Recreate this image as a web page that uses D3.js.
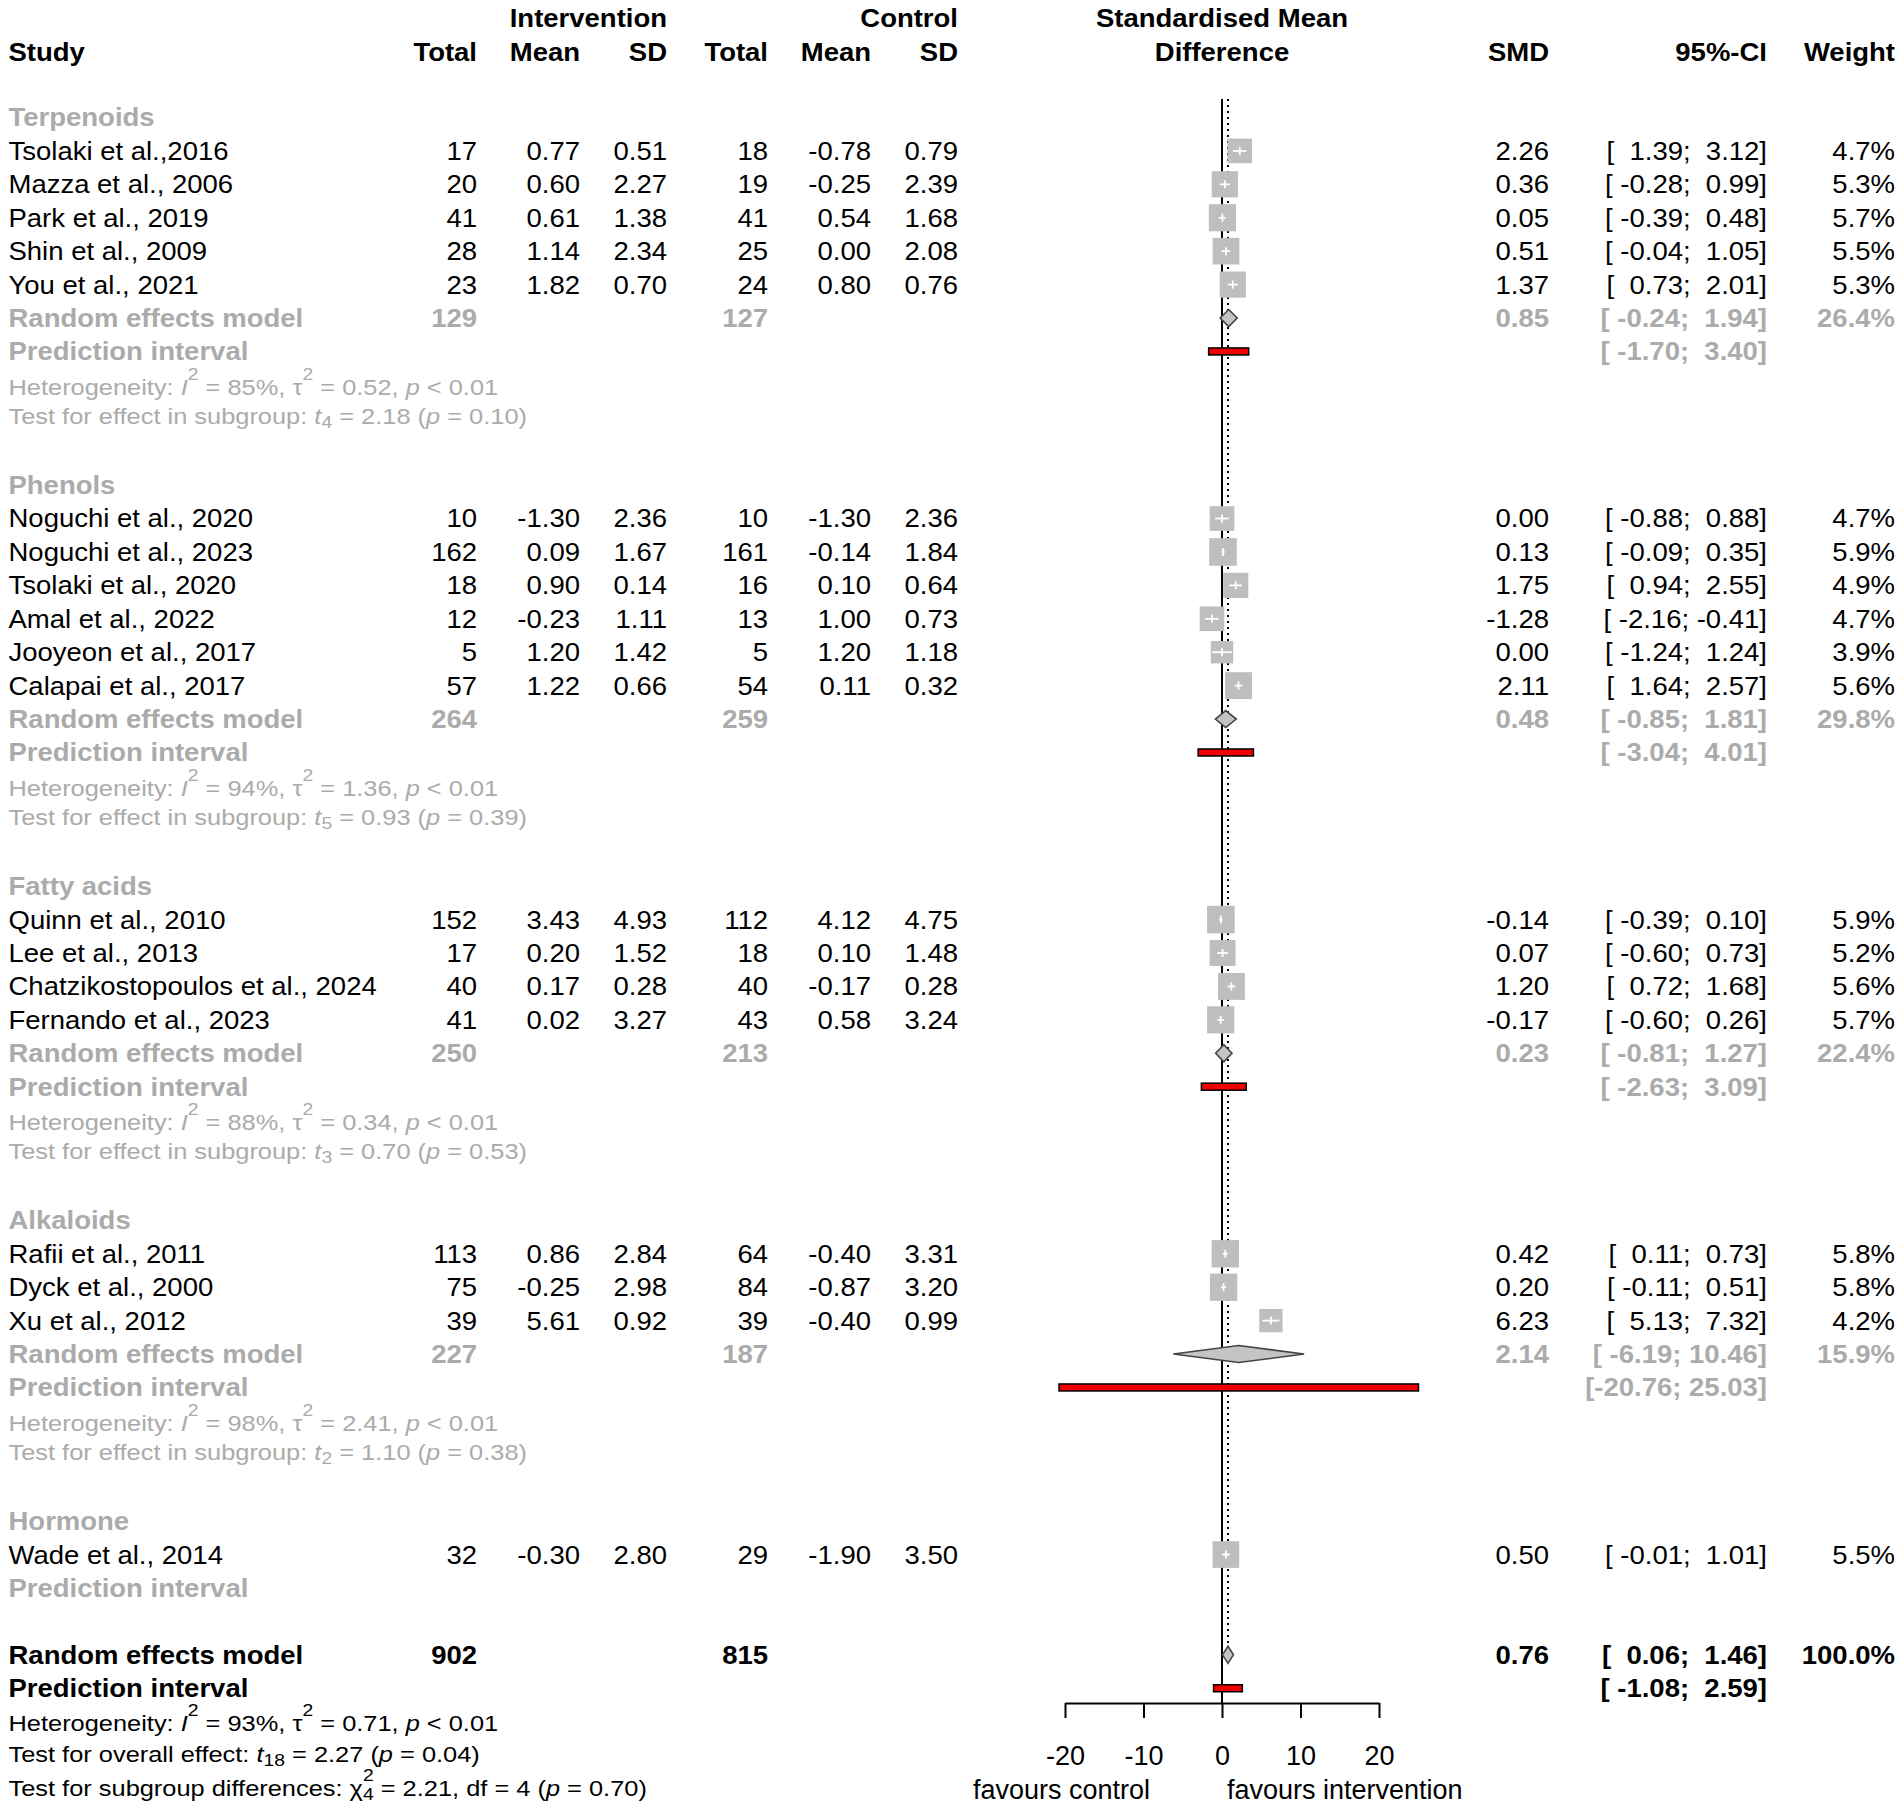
<!DOCTYPE html>
<html><head><meta charset="utf-8">
<script src="https://cdn.jsdelivr.net/npm/d3@7"></script>
<style>
body{margin:0;background:#fff}
text{font-family:"Liberation Sans",Arial,Helvetica,sans-serif;white-space:pre}
</style>
</head><body>
<svg id="chart" width="1902" height="1814"></svg>
<script>
// ---------------- DATA ----------------
const groupNames = ["Terpenoids","Phenols","Fatty acids","Alkaloids","Hormone"];

const studyNames = ["Tsolaki et al.,2016","Mazza et al., 2006","Park et al., 2019","Shin et al., 2009","You et al., 2021",
  "Noguchi et al., 2020","Noguchi et al., 2023","Tsolaki et al., 2020","Amal et al., 2022","Jooyeon et al., 2017","Calapai et al., 2017",
  "Quinn et al., 2010","Lee et al., 2013","Chatzikostopoulos et al., 2024","Fernando et al., 2023",
  "Rafii et al., 2011","Dyck et al., 2000","Xu et al., 2012",
  "Wade et al., 2014"];
const studyGroup = [0,0,0,0,0, 1,1,1,1,1,1, 2,2,2,2, 3,3,3, 4];
const intTotal = [17,20,41,28,23, 10,162,18,12,5,57, 152,17,40,41, 113,75,39, 32];
const intMean  = [0.77,0.60,0.61,1.14,1.82, -1.30,0.09,0.90,-0.23,1.20,1.22, 3.43,0.20,0.17,0.02, 0.86,-0.25,5.61, -0.30];
const intSD    = [0.51,2.27,1.38,2.34,0.70, 2.36,1.67,0.14,1.11,1.42,0.66, 4.93,1.52,0.28,3.27, 2.84,2.98,0.92, 2.80];
const ctlTotal = [18,19,41,25,24, 10,161,16,13,5,54, 112,18,40,43, 64,84,39, 29];
const ctlMean  = [-0.78,-0.25,0.54,0.00,0.80, -1.30,-0.14,0.10,1.00,1.20,0.11, 4.12,0.10,-0.17,0.58, -0.40,-0.87,-0.40, -1.90];
const ctlSD    = [0.79,2.39,1.68,2.08,0.76, 2.36,1.84,0.64,0.73,1.18,0.32, 4.75,1.48,0.28,3.24, 3.31,3.20,0.99, 3.50];
const smd      = [2.26,0.36,0.05,0.51,1.37, 0.00,0.13,1.75,-1.28,0.00,2.11, -0.14,0.07,1.20,-0.17, 0.42,0.20,6.23, 0.50];
const ciLow    = [1.39,-0.28,-0.39,-0.04,0.73, -0.88,-0.09,0.94,-2.16,-1.24,1.64, -0.39,-0.60,0.72,-0.60, 0.11,-0.11,5.13, -0.01];
const ciHigh   = [3.12,0.99,0.48,1.05,2.01, 0.88,0.35,2.55,-0.41,1.24,2.57, 0.10,0.73,1.68,0.26, 0.73,0.51,7.32, 1.01];
const weight   = [4.7,5.3,5.7,5.5,5.3, 4.7,5.9,4.9,4.7,3.9,5.6, 5.9,5.2,5.6,5.7, 5.8,5.8,4.2, 5.5];

// subgroup summaries (Hormone has none)
const sgIntTotal = [129,264,250,227,null];
const sgCtlTotal = [127,259,213,187,null];
const sgSMD      = [0.85,0.48,0.23,2.14,null];
const sgLow      = [-0.24,-0.85,-0.81,-6.19,null];
const sgHigh     = [1.94,1.81,1.27,10.46,null];
const sgWeight   = [26.4,29.8,22.4,15.9,null];
const sgPILow    = [-1.70,-3.04,-2.63,-20.76,null];
const sgPIHigh   = [3.40,4.01,3.09,25.03,null];
const sgI2       = [85,94,88,98,null];
const sgTau2     = [0.52,1.36,0.34,2.41,null];
const sgHetP     = ["< 0.01","< 0.01","< 0.01","< 0.01",null];
const sgTestDf   = [4,5,3,2,null];
const sgTestT    = [2.18,0.93,0.70,1.10,null];
const sgTestP    = [0.10,0.39,0.53,0.38,null];

// overall
const overallIntTotal = 902, overallCtlTotal = 815;
const overallSMD = 0.76, overallLow = 0.06, overallHigh = 1.46, overallWeight = 100.0;
const overallPILow = -1.08, overallPIHigh = 2.59;
const overallI2 = 93, overallTau2 = 0.71, overallHetP = "< 0.01";
const overallDf = 18, overallT = 2.27, overallP = 0.04;
const subgroupChi2 = 2.21, subgroupDf = 4, subgroupP = 0.70;

const axisTicks = [-20,-10,0,10,20];
const leftLabel = "favours control", rightLabel = "favours intervention";

// ---------------- LAYOUT / STYLE ----------------
const GRAY = "#ABABAB";
const FS = 25, SX = 1.1;          // table font
const HFS = 22, HSX = 1.155;       // heterogeneity lines
const SUBSCALE = 0.76;
const rowY0 = 117.5, rowH = 33.42;
const rowY = d3.scaleLinear().domain([0,1]).range([rowY0, rowY0+rowH]);
const col = {study:8.5, nE:477, mE:580, sE:667, nC:768, mC:871, sC:958, smd:1549, ci:1767, w:1895};
const xs = d3.scaleLinear().domain([-20,20]).range([1065,1379]);
const sq = d3.scaleSqrt().domain([0,5.9]).range([0,27.6]);
const axisY = 1703, topLineY = 99;

const svg = d3.select("#chart");
svg.append("rect").attr("width",1902).attr("height",1814).attr("fill","#fff");

const f2 = v => v.toFixed(2);
const pad = (s,n) => s.padStart(n," ");
const ciStr = (lo,hi) => "[" + pad(f2(lo),6) + "; " + pad(f2(hi),5) + "]";

function txt(x, yc, s, o={}) {
  const size = o.size || FS, sx = o.sx || SX;
  const base = yc + 0.716*size/2;
  return svg.append("text")
    .attr("transform", `translate(${x},${base}) scale(${sx},1)`)
    .attr("text-anchor", o.anchor || "end")
    .attr("font-size", size)
    .attr("font-weight", o.bold ? "bold" : "normal")
    .attr("fill", o.color || "#000")
    .text(s);
}
function rich(x, yc, parts, color) {
  const size = HFS;
  const base = yc + 0.716*size/2;
  const t = svg.append("text")
    .attr("transform", `translate(${x},${base}) scale(${HSX},1)`)
    .attr("font-size", size).attr("fill", color);
  let cur = 0;
  parts.forEach(p => {
    const target = p.sup ? -0.68*size : (p.sub ? 0.18*size : 0);
    const ts = t.append("tspan").attr("dy", target - cur).text(p.t);
    cur = target;
    if (p.sup || p.sub) ts.attr("font-size", SUBSCALE*size);
    if (p.i) ts.attr("font-style","italic");
    if (p.back) ts.attr("dx", -0.556*SUBSCALE*size);
  });
}
const hetParts = (i2, tau2, pl) => [
  {t:"Heterogeneity: "},{t:"I",i:1},{t:"2",sup:1},{t:" = "+i2+"%, "},{t:"\u03c4"},{t:"2",sup:1},
  {t:" = "+f2(tau2)+", "},{t:"p",i:1},{t:" "+pl}];
const testParts = (label, df, tv, p) => [
  {t:label+": "},{t:"t",i:1},{t:String(df),sub:1},{t:" = "+f2(tv)+" ("},{t:"p",i:1},{t:" = "+f2(p)+")"}];

// ---------------- HEADER ----------------
const h1 = 18, h2 = 52;
txt(col.sE, h1, "Intervention", {bold:1});
txt(col.sC, h1, "Control", {bold:1});
txt(1222, h1, "Standardised Mean", {bold:1, anchor:"middle"});
txt(col.study, h2, "Study", {bold:1, anchor:"start"});
[["nE","Total"],["mE","Mean"],["sE","SD"],["nC","Total"],["mC","Mean"],["sC","SD"],["smd","SMD"],["ci","95%-CI"],["w","Weight"]]
  .forEach(([k,s]) => txt(col[k], h2, s, {bold:1}));
txt(1222, h2, "Difference", {bold:1, anchor:"middle"});

// ---------------- ROWS ----------------
const rows = [];
let r = 0;
groupNames.forEach((g, gi) => {
  rows.push({type:"group", gi, r:r++});
  studyNames.forEach((s, i) => { if (studyGroup[i] === gi) rows.push({type:"study", i, r:r++}); });
  if (sgSMD[gi] != null) rows.push({type:"re", gi, r:r++});
  rows.push({type:"pi", gi, r:r++});
  if (sgI2[gi] != null) { rows.push({type:"het", gi, r:r++}); rows.push({type:"test", gi, r:r++}); }
  r++;
});
const oRE = r, oPI = r+1, oHet = r+2, oTest = r+3, oSub = r+4;

// reference lines (drawn first)
svg.append("line").attr("x1",xs(0)).attr("x2",xs(0)).attr("y1",topLineY).attr("y2",axisY)
  .attr("stroke","#000").attr("stroke-width",2);
svg.append("line").attr("x1",xs(overallSMD)).attr("x2",xs(overallSMD)).attr("y1",topLineY).attr("y2",rowY(oRE)-8)
  .attr("stroke","#000").attr("stroke-width",2).attr("stroke-dasharray","2,4");

function diamond(est, lo, hi, y) {
  const h = 8.5;
  svg.append("path")
    .attr("d", `M${xs(lo)},${y}L${xs(est)},${y-h}L${xs(hi)},${y}L${xs(est)},${y+h}Z`)
    .attr("fill","#C4C4C4").attr("stroke","#444").attr("stroke-width",1.6);
}
function piBar(lo, hi, y) {
  svg.append("rect").attr("x",xs(lo)).attr("width",xs(hi)-xs(lo)).attr("y",y-3.5).attr("height",7)
    .attr("fill","#F00000").attr("stroke","#000").attr("stroke-width",1.5);
}
function studyMark(i, y) {
  const s = sq(weight[i]), cx = xs(smd[i]);
  const L = cx - s/2, R = cx + s/2;
  const x1 = xs(ciLow[i]), x2 = xs(ciHigh[i]);
  if (x1 < L) svg.append("line").attr("x1",x1).attr("x2",L).attr("y1",y).attr("y2",y).attr("stroke","#000").attr("stroke-width",2);
  if (x2 > R) svg.append("line").attr("x1",R).attr("x2",x2).attr("y1",y).attr("y2",y).attr("stroke","#000").attr("stroke-width",2);
  svg.append("rect").attr("x",L).attr("y",y-s/2).attr("width",s).attr("height",s).attr("fill","#BEBEBE");
  svg.append("line").attr("x1",Math.max(x1,L)).attr("x2",Math.min(x2,R)).attr("y1",y).attr("y2",y)
    .attr("stroke","#fff").attr("stroke-width",1.8);
  svg.append("line").attr("x1",cx).attr("x2",cx).attr("y1",y-4).attr("y2",y+4)
    .attr("stroke","#fff").attr("stroke-width",1.8);
}

rows.forEach(row => {
  const y = rowY(row.r);
  if (row.type === "group") {
    txt(col.study, y, groupNames[row.gi], {anchor:"start", bold:1, color:GRAY});
  } else if (row.type === "study") {
    const i = row.i;
    txt(col.study, y, studyNames[i], {anchor:"start"});
    txt(col.nE, y, String(intTotal[i]));
    txt(col.mE, y, f2(intMean[i]));
    txt(col.sE, y, f2(intSD[i]));
    txt(col.nC, y, String(ctlTotal[i]));
    txt(col.mC, y, f2(ctlMean[i]));
    txt(col.sC, y, f2(ctlSD[i]));
    txt(col.smd, y, f2(smd[i]));
    txt(col.ci, y, ciStr(ciLow[i], ciHigh[i]));
    txt(col.w, y, weight[i].toFixed(1) + "%");
    studyMark(i, y);
  } else if (row.type === "re") {
    const g = row.gi, o = {bold:1, color:GRAY};
    txt(col.study, y, "Random effects model", {...o, anchor:"start"});
    txt(col.nE, y, String(sgIntTotal[g]), o);
    txt(col.nC, y, String(sgCtlTotal[g]), o);
    txt(col.smd, y, f2(sgSMD[g]), o);
    txt(col.ci, y, ciStr(sgLow[g], sgHigh[g]), o);
    txt(col.w, y, sgWeight[g].toFixed(1) + "%", o);
    diamond(sgSMD[g], sgLow[g], sgHigh[g], y);
  } else if (row.type === "pi") {
    const g = row.gi, o = {bold:1, color:GRAY};
    txt(col.study, y, "Prediction interval", {...o, anchor:"start"});
    if (sgPILow[g] != null) {
      txt(col.ci, y, ciStr(sgPILow[g], sgPIHigh[g]), o);
      piBar(sgPILow[g], sgPIHigh[g], y);
    }
  } else if (row.type === "het") {
    const g = row.gi;
    rich(col.study, y + 2, hetParts(sgI2[g], sgTau2[g], sgHetP[g]), GRAY);
  } else if (row.type === "test") {
    const g = row.gi;
    rich(col.study, y - 2, testParts("Test for effect in subgroup", sgTestDf[g], sgTestT[g], sgTestP[g]), GRAY);
  }
});

// overall rows
{
  const y = rowY(oRE), o = {bold:1};
  txt(col.study, y, "Random effects model", {...o, anchor:"start"});
  txt(col.nE, y, String(overallIntTotal), o);
  txt(col.nC, y, String(overallCtlTotal), o);
  txt(col.smd, y, f2(overallSMD), o);
  txt(col.ci, y, ciStr(overallLow, overallHigh), o);
  txt(col.w, y, overallWeight.toFixed(1) + "%", o);
  diamond(overallSMD, overallLow, overallHigh, y);
  const yp = rowY(oPI);
  txt(col.study, yp, "Prediction interval", {...o, anchor:"start"});
  txt(col.ci, yp, ciStr(overallPILow, overallPIHigh), o);
  piBar(overallPILow, overallPIHigh, yp);
  rich(col.study, rowY(oHet) + 1, hetParts(overallI2, overallTau2, overallHetP), "#000");
  rich(col.study, rowY(oTest) - 1, testParts("Test for overall effect", overallDf, overallT, overallP), "#000");
  rich(col.study, rowY(oSub), [
    {t:"Test for subgroup differences: "},{t:"\u03c7"},{t:"2",sup:1},{t:String(subgroupDf),sub:1,back:1},
    {t:" = "+f2(subgroupChi2)+", df = "+subgroupDf+" ("},{t:"p",i:1},{t:" = "+f2(subgroupP)+")"}], "#000");
}

// ---------------- AXIS ----------------
const ax = svg.append("g").attr("transform", `translate(0,${axisY})`)
  .call(d3.axisBottom(xs).tickValues(axisTicks).tickSize(15).tickSizeOuter(0).tickPadding(28)
        .tickFormat(d => String(d)));
ax.select(".domain").attr("stroke","#000").attr("stroke-width",2);
ax.selectAll(".tick line").attr("stroke","#000").attr("stroke-width",2);
ax.selectAll(".tick text").attr("font-size",27).attr("fill","#000")
  .attr("font-family","'Liberation Sans',Arial,sans-serif");

svg.append("text").attr("x",1150).attr("y",1799).attr("text-anchor","end")
  .attr("font-size",27).text(leftLabel);
svg.append("text").attr("x",1227).attr("y",1799).attr("text-anchor","start")
  .attr("font-size",27).text(rightLabel);
</script>
</body></html>
